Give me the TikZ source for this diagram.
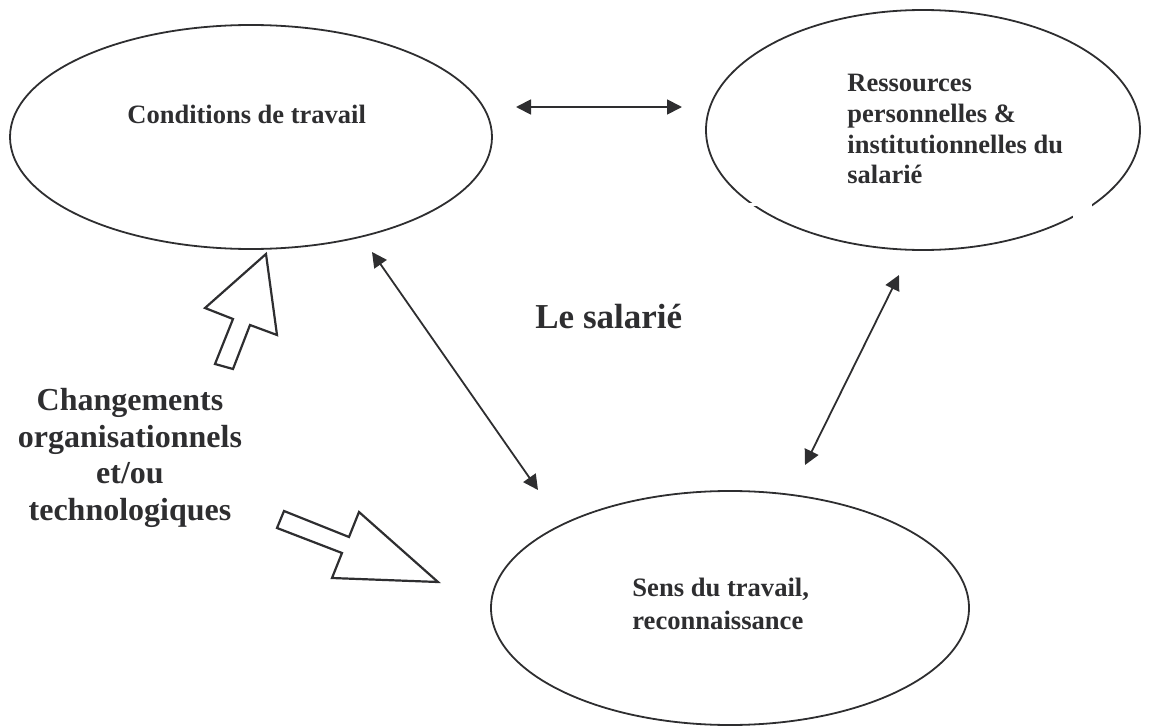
\documentclass[tikz,border=0pt]{standalone}
\usepackage{fontspec}
\setmainfont{Liberation Serif}
\usetikzlibrary{shapes.geometric,arrows.meta,positioning}

\definecolor{ink}{HTML}{2E2E30}

\tikzset{
    zone/.style={draw=ink, line width=0.9pt, ellipse, inner sep=0pt, outer sep=0pt},
    lien/.style={draw=ink, line width=0.9pt, {Triangle[length=7.5pt,width=7.5pt]}-{Triangle[length=7.5pt,width=7.5pt]}},
    fleche/.style={draw=ink, line width=1.1pt, fill=white, line join=miter},
    petit/.style={text=ink, font=\bfseries\fontsize{13.25}{15.35}\selectfont, align=left, inner sep=0pt},
}

\begin{document}
\begin{tikzpicture}[x=0.5pt, y=-0.5pt]
    \useasboundingbox (0,0) rectangle (1164,728);

    % the three ellipses
    \node[zone, minimum width=241pt, minimum height=112pt] (cond) at (251,137) {};
    \node[zone, minimum width=217pt, minimum height=120pt] (res) at (923,130) {};
    \node[zone, minimum width=239pt, minimum height=117pt] (sens) at (730,608) {};

    % small breaks in the outline of the right ellipse
    \fill[white] (744,202.5) rectangle (760,205.5);
    \fill[white] (1073,203) rectangle (1092,220);

    % texts
    \node[petit, anchor=base west] (condtxt) at (127,123) {Conditions de travail};
    \node[petit, anchor=north west] (restxt) at (847,74) {Ressources\\personnelles \&\\institutionnelles du\\salarié};
    \node[petit, anchor=north west, font=\bfseries\fontsize{13.3}{16.5}\selectfont] (senstxt) at (632,578) {Sens du travail,\\reconnaissance};
    \node[text=ink, font=\bfseries\fontsize{17.5}{20}\selectfont, inner sep=0pt, anchor=base west] (sal) at (535,328) {Le salarié};
    \node[text=ink, font=\bfseries\fontsize{16}{18.25}\selectfont, align=center, inner sep=0pt, anchor=north] (chg) at (130,388)
        {Changements\\organisationnels\\et/ou\\technologiques};

    % free ends of the double arrows
    \coordinate (h1) at (516,107);
    \coordinate (h2) at (682,107);
    \coordinate (d1) at (372,252);
    \coordinate (d2) at (538,490);
    \coordinate (e1) at (899,275);
    \coordinate (e2) at (805,465);

    \draw[lien] (h1) -- (h2);
    \draw[lien] (d1) -- (d2);
    \draw[lien] (e1) -- (e2);

    % block arrows from the changes
    \draw[fleche] (266,254) -- (277,335) -- (250,325) -- (233,369) -- (215,364) -- (233,319) -- (205,308) -- cycle;
    \draw[fleche] (284,511) -- (349,537) -- (359,512) -- (438,582) -- (332,578) -- (342,553) -- (277,528) -- cycle;
\end{tikzpicture}
\end{document}
